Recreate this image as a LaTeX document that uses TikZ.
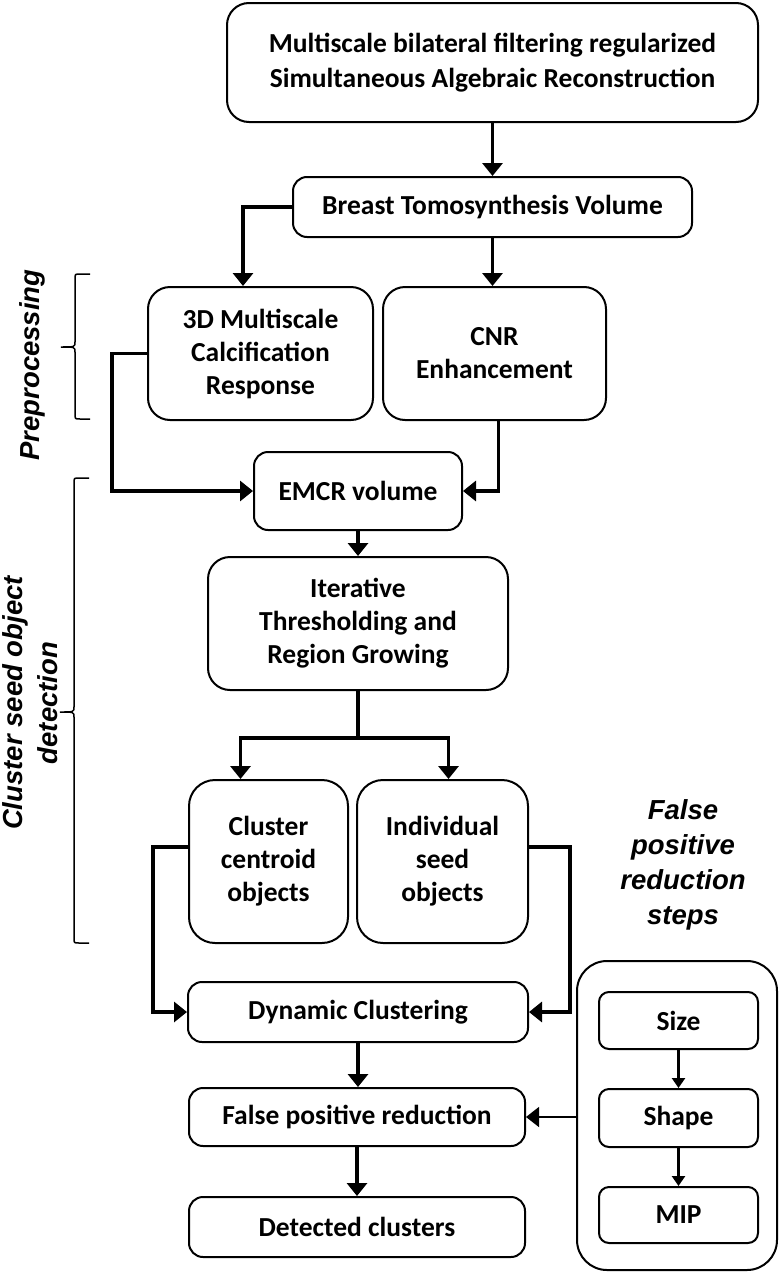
\documentclass[tikz,border=0pt]{standalone}
\usepackage{fontspec}
\setmainfont{Carlito}
\newfontfamily\sidefont{Liberation Sans}
\usetikzlibrary{arrows.meta}

\begin{document}
\begin{tikzpicture}[x=1pt,y=-1pt,
  box/.style={draw,line width=2pt,rounded corners=14pt,align=center,inner sep=0pt,
    font=\bfseries\fontsize{27.5}{33}\selectfont},
  flow/.style={line width=3.4pt,-{Triangle[length=13pt,width=20pt]}},
  thinflow/.style={line width=1.4pt,-{Triangle[length=13pt,width=20pt]}},
  smallflow/.style={line width=2.6pt,-{Triangle[length=10pt,width=13pt]}},
  side/.style={font=\sidefont\bfseries\itshape\fontsize{27.5}{35}\selectfont,align=center},
  bracket/.style={line width=1.5pt}]
\useasboundingbox (0,0) rectangle (780,1274);
\node[box,minimum width=531pt,minimum height=119pt,rounded corners=22pt,font=\bfseries\fontsize{27.5}{35}\selectfont] (recon) at (492.5,62.5) {Multiscale bilateral filtering regularized\\Simultaneous Algebraic Reconstruction};
\node[box,minimum width=399pt,minimum height=60pt] (breast) at (492.5,207) {Breast Tomosynthesis Volume};
\node[box,minimum width=225pt,minimum height=133pt,rounded corners=22pt] (mcr) at (260.5,353.5) {3D Multiscale\\Calcification\\Response};
\node[box,minimum width=223pt,minimum height=133pt,rounded corners=22pt] (cnr) at (494.5,353.5) {CNR\\Enhancement};
\node[box,minimum width=208pt,minimum height=78pt] (emcr) at (358,491) {EMCR volume};
\node[box,minimum width=300pt,minimum height=133pt,rounded corners=22pt] (iter) at (358,623.5) {Iterative\\Thresholding and\\Region Growing};
\node[box,minimum width=159pt,minimum height=163pt,rounded corners=26pt] (centroid) at (268.5,861.5) {Cluster\\centroid\\objects};
\node[box,minimum width=171pt,minimum height=163pt,rounded corners=26pt] (indiv) at (442.5,861.5) {Individual\\seed\\objects};
\node[box,minimum width=340pt,minimum height=60pt] (dyn) at (358,1012) {Dynamic Clustering};
\node[box,minimum width=336pt,minimum height=58pt] (fpr) at (357,1117) {False positive reduction};
\node[box,minimum width=336pt,minimum height=60pt] (det) at (357,1227) {Detected clusters};
\node[box,minimum width=200pt,minimum height=309pt,rounded corners=30pt] (panel) at (677,1115.5) {};
\node[box,minimum width=159pt,minimum height=57pt,rounded corners=10pt] (size) at (678.5,1020.5) {Size};
\node[box,minimum width=159pt,minimum height=58pt,rounded corners=10pt] (shape) at (678.5,1118) {Shape};
\node[box,minimum width=159pt,minimum height=56pt,rounded corners=10pt] (mip) at (678.5,1215) {MIP};
\node[side,rotate=90] (prep) at (32,365) {Preprocessing};
\node[side,rotate=90] (seed) at (30,703) {Cluster seed object\\detection};
\node[side] (fpsteps) at (683,865) {False\\positive\\reduction\\steps};
\draw[bracket] (90,274) -- (80,274) .. controls (75,274) .. (75,279) -- (75,342)
  .. controls (75,347) .. (61,347) .. controls (75,347) .. (75,352) -- (75,414)
  .. controls (75,419) .. (80,419) -- (90,419);
\draw[bracket] (89,478) -- (79,478) .. controls (74,478) .. (74,483) -- (74,707)
  .. controls (74,712) .. (60,712) .. controls (74,712) .. (74,717) -- (74,938)
  .. controls (74,943) .. (79,943) -- (89,943);
\draw[flow] (recon.south) -- (breast.north);
\draw[flow] (breast.west) -| ([xshift=-17.5pt]mcr.north);
\draw[flow] (breast.south) -- (breast.south |- cnr.north);
\draw[flow] (mcr.west) -- ++(-35,0) |- (emcr.west);
\draw[flow] ([xshift=4pt]cnr.south) |- (emcr.east);
\draw[flow] (emcr.south) -- (iter.north);
\draw[line width=3.4pt] (iter.south) -- ++(0,47) coordinate (split);
\draw[flow] (split) -| ([xshift=-28pt]centroid.north);
\draw[flow] (split) -| ([xshift=6pt]indiv.north);
\draw[flow] ([yshift=14.5pt]centroid.west) -- ++(-35,0) |- (dyn.west);
\draw[flow] ([yshift=14.5pt]indiv.east) -- ++(41,0) |- (dyn.east);
\draw[flow] (dyn.south) -- (dyn.south |- fpr.north);
\draw[flow] (fpr.south) -- (fpr.south |- det.north);
\draw[thinflow] (panel.west |- fpr.east) -- (fpr.east);
\draw[smallflow] (size) -- (shape);
\draw[smallflow] (shape) -- (mip);
\end{tikzpicture}
\end{document}
